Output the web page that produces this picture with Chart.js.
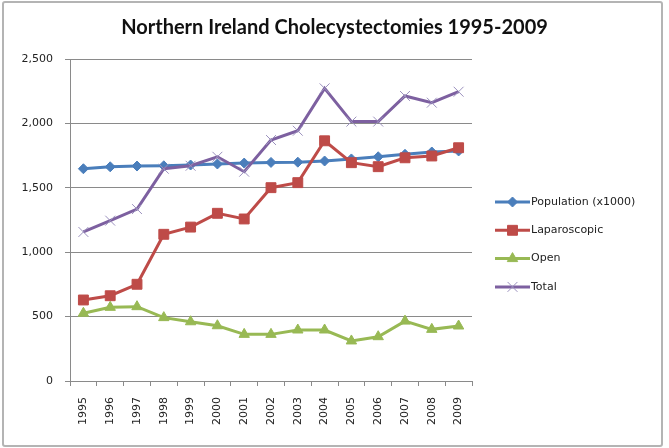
<!DOCTYPE html>
<html>
<head>
<meta charset="utf-8">
<title>Northern Ireland Cholecystectomies 1995-2009</title>
<script src="https://cdn.jsdelivr.net/npm/chart.js@4.4.1/dist/chart.umd.min.js"></script>
<style>
  html, body { margin: 0; padding: 0; background: #fff; }
  #wrap { position: relative; width: 669px; height: 448px; }
  #frame {
    position: absolute; left: 2px; top: 1px; width: 657px; height: 442px;
    border: 2px solid #b4b4b4; border-radius: 3px; pointer-events: none;
  }
</style>
</head>
<body>
<div id="wrap">
  <canvas id="chart" width="669" height="448"></canvas>
  <div id="frame"></div>
</div>
<script>
// chart data
const years = ["1995", "1996", "1997", "1998", "1999", "2000", "2001", "2002",
               "2003", "2004", "2005", "2006", "2007", "2008", "2009"];

const population = [1648, 1663, 1669, 1671, 1677, 1685, 1692, 1697,
                    1699, 1708, 1724, 1741, 1760, 1778, 1786];
const laparoscopic = [629, 662, 751, 1139, 1195, 1302, 1258, 1501,
                      1540, 1865, 1695, 1664, 1733, 1747, 1811];
const open = [526, 572, 577, 492, 460, 429, 362, 362,
              396, 396, 311, 344, 465, 401, 427];
const total = [1157, 1245, 1335, 1648, 1671, 1741, 1625, 1871,
               1943, 2272, 2014, 2014, 2213, 2161, 2246];

const yTicks = [0, 500, 1000, 1500, 2000, 2500];

const GRID = "#8a8a8a";
const TEXT = "#222222";
const TICK_FONT = { family: "DejaVu Sans", size: 11 };

/* =========================================
   LEGEND: line + marker, drawn in the space
   kept free by the dummy right-hand scale
========================================= */
const sideLegend = {
  id: "sideLegend",
  afterDraw(chart) {
    const ctx = chart.ctx;
    const x0 = 495, x1 = 530, top = 202, step = 28.3;
    ctx.save();
    chart.data.datasets.forEach((ds, i) => {
      const y = top + i * step;
      ctx.strokeStyle = ds.borderColor;
      ctx.lineWidth = ds.borderWidth;
      ctx.beginPath();
      ctx.moveTo(x0, y);
      ctx.lineTo(x1, y);
      ctx.stroke();

      ctx.fillStyle = ds.pointBackgroundColor;
      ctx.strokeStyle = ds.pointBorderColor;
      ctx.lineWidth = ds.pointBorderWidth;
      if (Chart.helpers && Chart.helpers.drawPoint) {
        Chart.helpers.drawPoint(ctx, {
          pointStyle: ds.pointStyle,
          radius: ds.pointRadius,
          borderWidth: ds.pointBorderWidth,
          rotation: 0
        }, (x0 + x1) / 2, y);
      }

      ctx.fillStyle = TEXT;
      ctx.font = "11px 'DejaVu Sans'";
      ctx.textBaseline = "middle";
      ctx.textAlign = "left";
      ctx.fillText(ds.label, x1 + 1, y);
    });
    ctx.restore();
  }
};

function series(label, data, color, style, radius, markerBorder, order) {
  return {
    label: label,
    data: data,
    borderColor: color,
    backgroundColor: color,
    borderWidth: 3,
    pointStyle: style,
    pointRadius: radius,
    pointHoverRadius: radius,
    pointBackgroundColor: color,
    pointBorderColor: markerBorder || color,
    pointBorderWidth: 1,
    tension: 0,
    order: order
  };
}

document.addEventListener("DOMContentLoaded", () => {
  const ctx = document.getElementById("chart").getContext("2d");

  new Chart(ctx, {
    type: "line",
    data: {
      labels: years,
      datasets: [
        series("Population (x1000)", population, "#4a7ebb", "rectRot", 5, null, 4),
        series("Laparoscopic", laparoscopic, "#be4b48", "rect", 7, null, 3),
        series("Open", open, "#98b954", "triangle", 6, null, 2),
        series("Total", total, "#7d60a0", "crossRot", 7, "#9a90bd", 1)
      ]
    },
    options: {
      responsive: false,
      animation: false,
      layout: { padding: 0 },
      plugins: {
        legend: { display: false },
        tooltip: { enabled: false },
        title: {
          display: true,
          text: "Northern Ireland Cholecystectomies 1995-2009",
          color: "#111",
          font: { family: "Lato", size: 20, weight: "bold", lineHeight: 1.2 },
          padding: { top: 16, bottom: 19 }
        }
      },
      scales: {
        x: {
          offset: true,
          afterFit: s => { s.height = 67; },
          grid: {
            offset: true,
            drawOnChartArea: false,
            drawTicks: true,
            tickLength: 5,
            color: GRID
          },
          border: { color: GRID, width: 1 },
          ticks: {
            color: TEXT,
            font: TICK_FONT,
            minRotation: 90,
            maxRotation: 90,
            padding: 11,
            autoSkip: false
          }
        },
        y: {
          min: 0,
          max: 2500,
          afterFit: s => { s.width = 70; },
          afterBuildTicks: s => { s.ticks = yTicks.map(v => ({ value: v })); },
          grid: { color: GRID, tickLength: 5 },
          border: { color: GRID, width: 1 },
          ticks: {
            color: TEXT,
            font: TICK_FONT,
            padding: 12,
            callback: v => v.toLocaleString("en-US")
          }
        },
        // empty scale on the right: keeps room for the legend
        legendSpace: {
          type: "linear",
          position: "right",
          afterFit: s => { s.width = 197; },
          grid: { display: false, drawTicks: false },
          border: { display: false },
          ticks: { display: false }
        }
      }
    },
    plugins: [sideLegend]
  });
});
</script>
</body>
</html>
